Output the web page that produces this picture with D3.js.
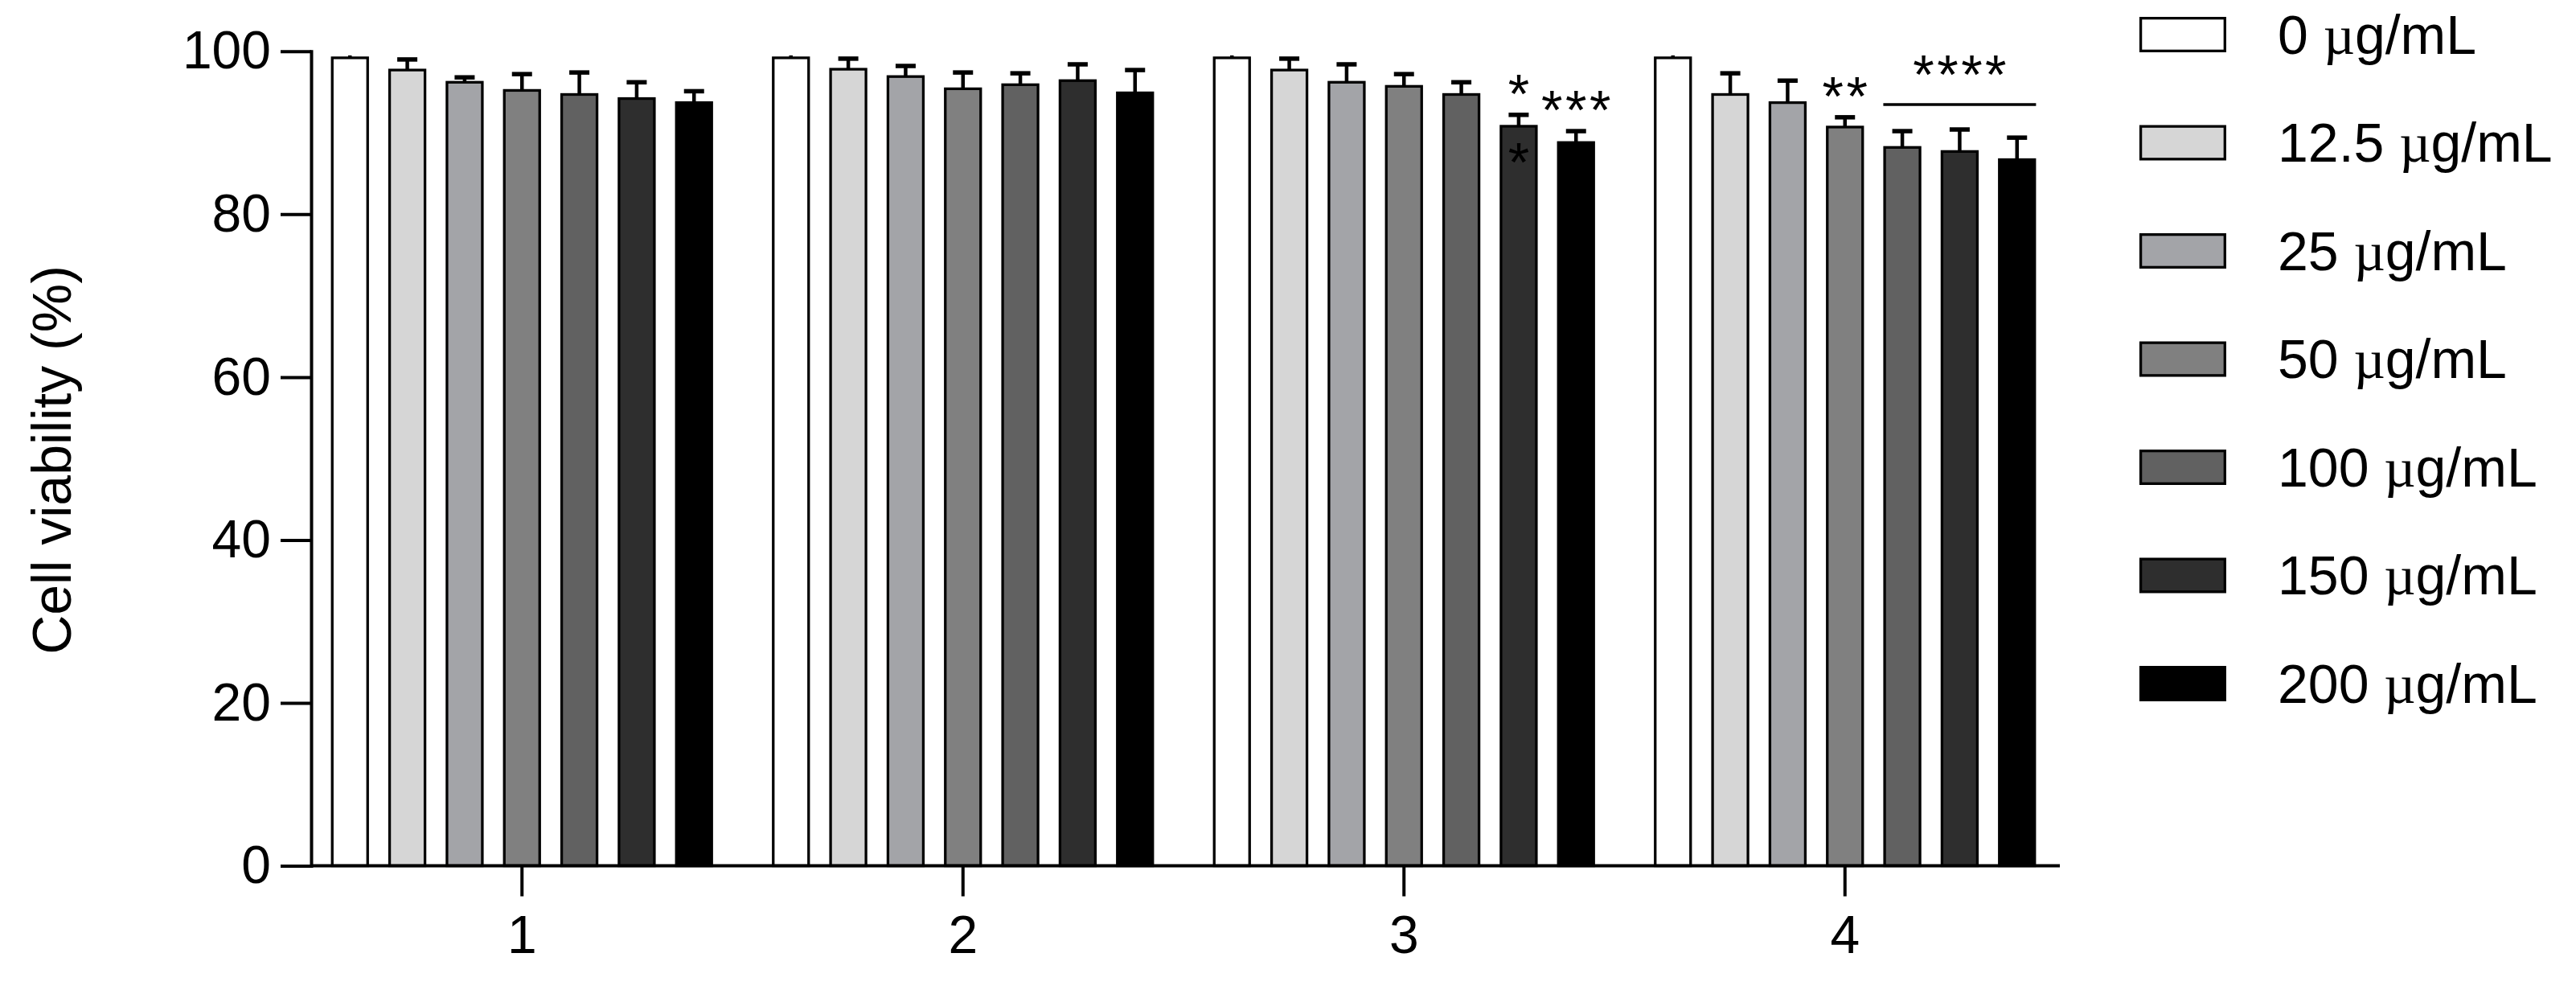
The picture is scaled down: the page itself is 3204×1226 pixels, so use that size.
<!DOCTYPE html>
<html>
<head>
<meta charset="UTF-8">
<script src="https://d3js.org/d3.v7.min.js"></script>
<style>
  body { margin: 0; background: #fff; }
  text { font-family: "Liberation Sans", Arial, sans-serif; fill: #000; }
</style>
</head>
<body>
<script>
// groups on the x axis and the dose series
var groups = ['1', '2', '3', '4'];
var doses = ['0', '12.5', '25', '50', '100', '150', '200'];
var doseColors = ['#ffffff', '#d6d6d6', '#a3a4a8', '#808080', '#616161', '#2e2e2e', '#000000'];

// mean cell viability (%) for each group, one value per dose
var mean1 = [99.2, 97.7, 96.2, 95.2, 94.7, 94.2, 93.7];
var mean2 = [99.2, 97.8, 96.9, 95.4, 95.9, 96.4, 94.9];
var mean3 = [99.2, 97.7, 96.2, 95.7, 94.7, 90.8, 88.8];
var mean4 = [99.2, 94.7, 93.7, 90.7, 88.2, 87.7, 86.7];
// upper error bars (SD)
var sd1 = [0.3, 1.3, 0.6, 2.0, 2.7, 2.0, 1.4];
var sd2 = [0.3, 1.3, 1.3, 2.0, 1.4, 2.0, 2.8];
var sd3 = [0.3, 1.4, 2.2, 1.5, 1.5, 1.4, 1.4];
var sd4 = [0.3, 2.6, 2.7, 1.2, 2.0, 2.7, 2.7];

var yTicks = [0, 20, 40, 60, 80, 100];

// significance marks
var starLabels = [
  {group: '3', dose: 5, lines: ['*', '*']},
  {group: '3', dose: 6, lines: ['***']},
  {group: '4', dose: 3, lines: ['**']}
];
var starSpans = [{group: '4', from: 4, to: 6, text: '****'}];

var width = 3204, height = 1226;
var font = '"Liberation Sans", Arial, sans-serif';

var means = [mean1, mean2, mean3, mean4];
var sds = [sd1, sd2, sd3, sd4];
var bars = [];
groups.forEach(function(g, gi) {
  doses.forEach(function(d, di) {
    bars.push({group: g, dose: di, mean: means[gi][di], sd: sds[gi][di]});
  });
});

var svg = d3.select('body').append('svg')
  .attr('width', width).attr('height', height);

var y = d3.scaleLinear().domain([0, 100]).range([1076.5, 63.8]);
var x0 = d3.scaleBand().domain(groups).range([375, 2569]);
var x1 = d3.scaleBand().domain(d3.range(doses.length)).range([-236, 236]).paddingInner(0.383);

function barX(d) { return x0(d.group) + x0.bandwidth() / 2 + x1(d.dose); }
function barMid(d) { return barX(d) + x1.bandwidth() / 2; }
function findBar(g, di) { return bars.find(function(b) { return b.group === g && b.dose === di; }); }

// bars
svg.append('g').selectAll('rect')
  .data(bars)
  .join('rect')
  .attr('x', barX)
  .attr('y', function(d) { return y(d.mean); })
  .attr('width', x1.bandwidth())
  .attr('height', function(d) { return y(0) - y(d.mean); })
  .attr('fill', function(d) { return doseColors[d.dose]; })
  .attr('stroke', '#000')
  .attr('stroke-width', 3.3);

// error bars (upper only)
var err = svg.append('g').attr('stroke', '#000');
err.selectAll('line.stem')
  .data(bars)
  .join('line')
  .attr('class', 'stem')
  .attr('x1', barMid).attr('x2', barMid)
  .attr('y1', function(d) { return y(d.mean); })
  .attr('y2', function(d) { return y(d.mean + d.sd); })
  .attr('stroke-width', 4.5);
err.selectAll('line.cap')
  .data(bars.filter(function(d) { return d.sd >= 0.5; }))
  .join('line')
  .attr('class', 'cap')
  .attr('x1', function(d) { return barMid(d) - 12.5; })
  .attr('x2', function(d) { return barMid(d) + 12.5; })
  .attr('y1', function(d) { return y(d.mean + d.sd); })
  .attr('y2', function(d) { return y(d.mean + d.sd); })
  .attr('stroke-width', 5.5);

// y axis
var yAxis = svg.append('g')
  .attr('transform', 'translate(387,0)')
  .call(d3.axisLeft(y).tickValues(yTicks).tickSize(38).tickSizeOuter(0).tickPadding(12))
  .attr('font-size', 66).attr('font-family', font);
yAxis.selectAll('line').attr('stroke-width', 4);
yAxis.select('.domain').attr('stroke-width', 4).attr('stroke-linecap', 'square');

// x axis
var xAxis = svg.append('g')
  .attr('transform', 'translate(0,' + y(0) + ')')
  .call(d3.axisBottom(x0).tickSize(38).tickSizeOuter(0).tickPadding(24))
  .attr('font-size', 66).attr('font-family', font);
xAxis.select('.domain').remove();
xAxis.selectAll('line').attr('stroke-width', 4);
xAxis.append('line')
  .attr('x1', 387).attr('x2', 2562)
  .attr('stroke', '#000').attr('stroke-width', 4);

// y title
svg.append('text')
  .attr('transform', 'translate(88,572) rotate(-90)')
  .attr('text-anchor', 'middle')
  .attr('font-size', 68)
  .text('Cell viability (%)');

// significance stars
var starSpacing = 3.5;
starLabels.forEach(function(s) {
  var b = findBar(s.group, s.dose);
  var cx = barMid(b) + starSpacing / 2;
  var t = svg.append('text')
    .attr('text-anchor', 'middle')
    .attr('font-size', 68)
    .attr('letter-spacing', starSpacing)
    .attr('x', cx)
    .attr('y', y(b.mean + b.sd) - 3);
  s.lines.forEach(function(line, i) {
    t.append('tspan').attr('x', cx).attr('dy', i === 0 ? 0 : 85).text(line);
  });
});
starSpans.forEach(function(s) {
  var first = findBar(s.group, s.from), last = findBar(s.group, s.to);
  var top = d3.max(d3.range(s.from, s.to + 1), function(i) {
    var b = findBar(s.group, i); return b.mean + b.sd;
  });
  var lineY = y(top) - 31;
  svg.append('line')
    .attr('x1', barX(first) - 1.65).attr('x2', barX(last) + x1.bandwidth() + 1.65)
    .attr('y1', lineY).attr('y2', lineY)
    .attr('stroke', '#000').attr('stroke-width', 3.5);
  svg.append('text')
    .attr('text-anchor', 'middle')
    .attr('font-size', 68)
    .attr('letter-spacing', starSpacing)
    .attr('x', (barMid(first) + barMid(last)) / 2 + starSpacing / 2)
    .attr('y', lineY - 14)
    .text(s.text);
});

// legend
var ly = d3.scalePoint().domain(doses).range([43, 850]);
var legend = svg.append('g').selectAll('g')
  .data(doses)
  .join('g')
  .attr('transform', function(d) { return 'translate(0,' + ly(d) + ')'; });
legend.append('rect')
  .attr('x', 2662.6).attr('y', -20.35)
  .attr('width', 104.7).attr('height', 40.7)
  .attr('fill', function(d, i) { return doseColors[i]; })
  .attr('stroke', '#000').attr('stroke-width', 3.3);
var lt = legend.append('text')
  .attr('x', 2833).attr('dy', '0.35em')
  .attr('font-size', 68);
lt.append('tspan').text(function(d) { return d + ' '; });
lt.append('tspan').attr('font-family', '"Liberation Serif", "Times New Roman", serif').text('\u00b5');
lt.append('tspan').text('g/mL');

console.log('ready..');
</script>
</body>
</html>
